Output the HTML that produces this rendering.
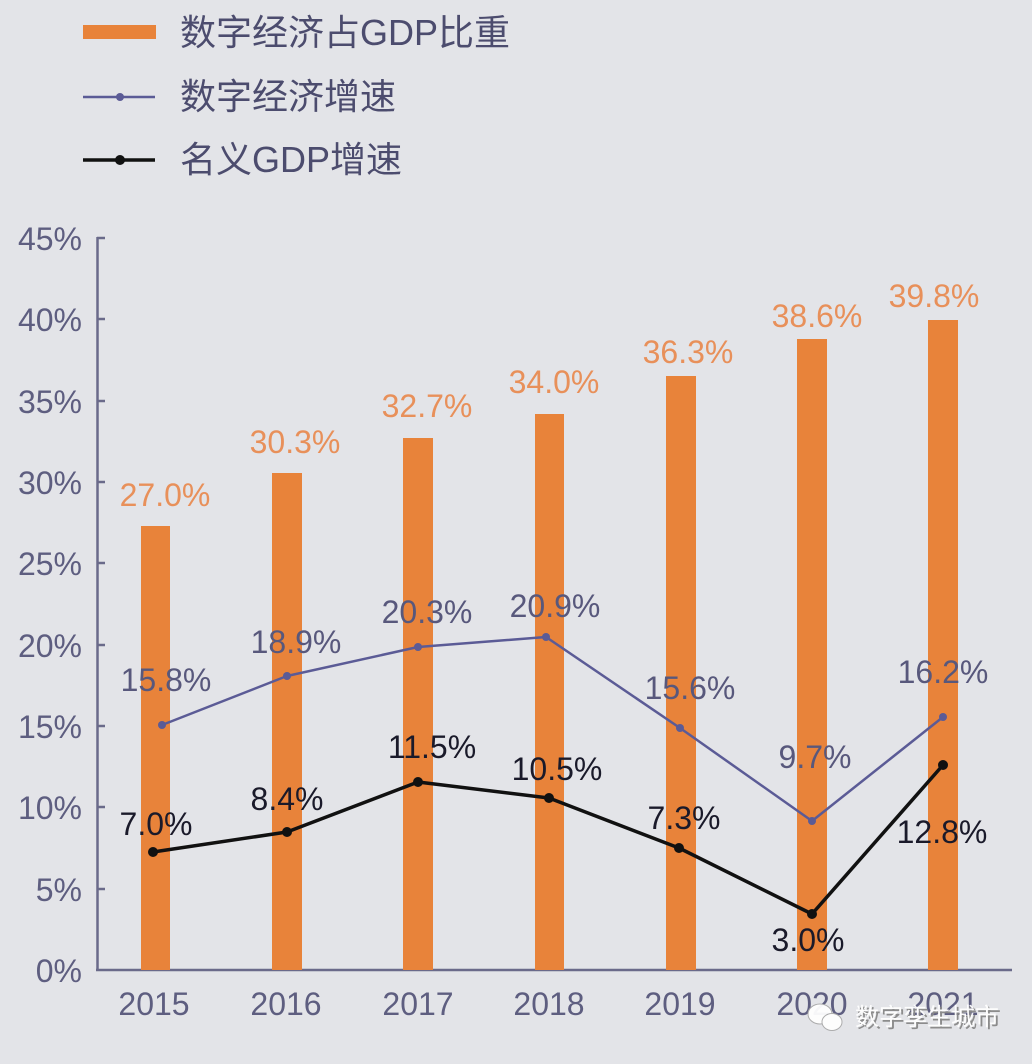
<!DOCTYPE html>
<html><head><meta charset="utf-8"><style>
html,body{margin:0;padding:0;background:#e3e4e8;}
svg{display:block;}
text{font-family:"Liberation Sans","Noto Sans CJK SC",sans-serif;}
</style></head><body>
<svg width="1032" height="1064" viewBox="0 0 1032 1064" xmlns="http://www.w3.org/2000/svg">
<rect x="0" y="0" width="1032" height="1064" fill="#e3e4e8"/>
<!-- legend -->
<rect x="83" y="25" width="73" height="14" fill="#e8833a"/>
<text x="180" y="45" font-size="36" fill="#4c4c6e">数字经济占GDP比重</text>
<line x1="83" y1="97" x2="155" y2="97" stroke="#5b5b96" stroke-width="2.5"/>
<circle cx="120" cy="97" r="4" fill="#5b5b96"/>
<text x="180" y="109" font-size="36" fill="#4c4c6e">数字经济增速</text>
<line x1="83" y1="160" x2="155" y2="160" stroke="#111" stroke-width="3.5"/>
<circle cx="120" cy="160" r="5" fill="#111"/>
<text x="180" y="172" font-size="36" fill="#4c4c6e">名义GDP增速</text>

<!-- axes -->
<g stroke="#6a6a8a" stroke-width="2.5" fill="none">
<line x1="97.5" y1="237" x2="97.5" y2="971"/>
<line x1="96" y1="970" x2="1012" y2="970"/>
<line x1="97" y1="238" x2="105" y2="238"/>
<line x1="97" y1="319" x2="105" y2="319"/>
<line x1="97" y1="401" x2="105" y2="401"/>
<line x1="97" y1="482" x2="105" y2="482"/>
<line x1="97" y1="563" x2="105" y2="563"/>
<line x1="97" y1="645" x2="105" y2="645"/>
<line x1="97" y1="726" x2="105" y2="726"/>
<line x1="97" y1="807" x2="105" y2="807"/>
<line x1="97" y1="889" x2="105" y2="889"/>
</g>
<g font-size="32" fill="#5e5e80" text-anchor="end">
<text x="82" y="250">45%</text>
<text x="82" y="331">40%</text>
<text x="82" y="413">35%</text>
<text x="82" y="494">30%</text>
<text x="82" y="575">25%</text>
<text x="82" y="657">20%</text>
<text x="82" y="738">15%</text>
<text x="82" y="819">10%</text>
<text x="82" y="901">5%</text>
<text x="82" y="982">0%</text>
</g>
<g font-size="32" fill="#5e5e80" text-anchor="middle">
<text x="154" y="1015">2015</text>
<text x="286" y="1015">2016</text>
<text x="418" y="1015">2017</text>
<text x="549" y="1015">2018</text>
<text x="680" y="1015">2019</text>
<text x="812" y="1015">2020</text>
<text x="943" y="1015">2021</text>
</g>

<!-- bars -->
<g fill="#e8833a">
<rect x="141" y="526" width="29" height="444"/>
<rect x="272" y="473" width="30" height="497"/>
<rect x="403" y="438" width="30" height="532"/>
<rect x="535" y="414" width="29" height="556"/>
<rect x="666" y="376" width="30" height="594"/>
<rect x="797" y="339" width="30" height="631"/>
<rect x="928" y="320" width="30" height="650"/>
</g>
<g font-size="32" fill="#e8905a" text-anchor="middle">
<text x="165" y="506">27.0%</text>
<text x="295" y="453">30.3%</text>
<text x="427" y="417">32.7%</text>
<text x="554" y="393">34.0%</text>
<text x="688" y="363">36.3%</text>
<text x="817" y="327">38.6%</text>
<text x="934" y="307">39.8%</text>
</g>

<!-- blue line -->
<polyline points="162,725 287,676 418,647 546,637 680,728 812,821 943,717" fill="none" stroke="#5b5b96" stroke-width="2.5" stroke-linejoin="round"/>
<g fill="#5b5b96">
<circle cx="162" cy="725" r="4"/><circle cx="287" cy="676" r="4"/><circle cx="418" cy="647" r="4"/><circle cx="546" cy="637" r="4"/><circle cx="680" cy="728" r="4"/><circle cx="812" cy="821" r="4"/><circle cx="943" cy="717" r="4"/>
</g>
<g font-size="32" fill="#58587c" text-anchor="middle">
<text x="166" y="691">15.8%</text>
<text x="296" y="653">18.9%</text>
<text x="427" y="623">20.3%</text>
<text x="555" y="617">20.9%</text>
<text x="690" y="699">15.6%</text>
<text x="815" y="768">9.7%</text>
<text x="943" y="683">16.2%</text>
</g>

<!-- black line -->
<polyline points="153,852 287,832 418,782 549,798 679,848 812,914 943,765" fill="none" stroke="#111" stroke-width="3.5" stroke-linejoin="round"/>
<g fill="#111">
<circle cx="153" cy="852" r="5"/><circle cx="287" cy="832" r="5"/><circle cx="418" cy="782" r="5"/><circle cx="549" cy="798" r="5"/><circle cx="679" cy="848" r="5"/><circle cx="812" cy="914" r="5"/><circle cx="943" cy="765" r="5"/>
</g>
<g font-size="32" fill="#1a1a2a" text-anchor="middle">
<text x="156" y="835">7.0%</text>
<text x="287" y="810">8.4%</text>
<text x="432" y="758">11.5%</text>
<text x="557" y="780">10.5%</text>
<text x="684" y="829">7.3%</text>
<text x="808" y="951">3.0%</text>
<text x="942" y="843">12.8%</text>
</g>

<!-- watermark -->
<g opacity="0.95">
<ellipse cx="820" cy="1014" rx="12" ry="10" fill="#fff" stroke="#aaa" stroke-width="1"/>
<ellipse cx="832" cy="1022" rx="10" ry="8.5" fill="#fff" stroke="#aaa" stroke-width="1"/>
<text x="856" y="1026" font-size="24" fill="#888" text-anchor="start" dx="1" dy="1">数字孪生城市</text>
<text x="855" y="1025" font-size="24" fill="#ffffff" text-anchor="start">数字孪生城市</text>
</g>
</svg>
</body></html>
